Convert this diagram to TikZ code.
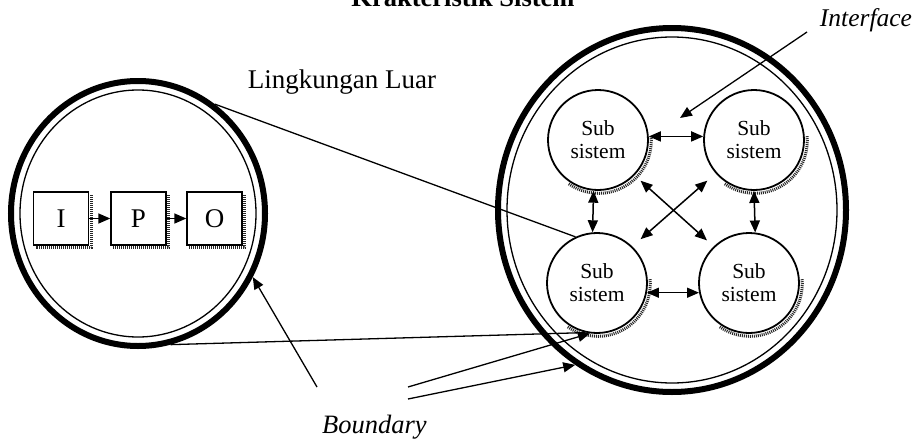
\documentclass[tikz,border=0pt]{standalone}
\usepackage{fontspec}
\setmainfont{Liberation Serif}
\usetikzlibrary{arrows.meta, shapes.geometric, positioning}
\tikzset{
  ring/.style={ellipse, draw, line width=6pt, inner sep=0pt},
  subsys/.style={circle, draw, fill=white, line width=1.8pt, minimum size=100pt,
                 inner sep=0pt, align=center, font=\fontsize{21.5}{23}\selectfont},
  ipobox/.style={rectangle, draw, fill=white, line width=1.4pt, minimum width=55pt,
                 minimum height=53pt, font=\fontsize{27}{30}\selectfont},
  shadowline/.style={draw=black!85, line width=3pt, dash pattern=on 1pt off 1pt},
  arrow/.style={-{Triangle[length=12pt,width=10pt]}, line width=1.5pt},
  darrow/.style={{Triangle[length=12pt,width=10pt]}-{Triangle[length=12pt,width=10pt]},
                 line width=1.5pt},
  link/.style={line width=1.3pt},
  label/.style={font=\fontsize{26.5}{30}\selectfont\itshape, anchor=base},
}
\begin{document}
\begin{tikzpicture}[x=1pt, y=-1pt]
  \useasboundingbox (0,0) rectangle (924,442);

  % judul dan label
  \node[font=\fontsize{26.5}{30}\selectfont\bfseries, anchor=base] (judul) at (463,6)
    {Krakteristik Sistem};
  \node[font=\fontsize{27}{30}\selectfont, anchor=base] (luarlbl) at (342,88)
    {Lingkungan Luar};
  \node[label, font=\fontsize{25.5}{30}\selectfont\itshape] (intf) at (866,26) {Interface};
  \node[label] (bnd) at (374.5,433) {Boundary};

  % lingkungan kiri
  \node[ring, minimum width=254pt, minimum height=265pt] (luar) at (138,213.5) {};
  \draw[link] (luar.center) ellipse (118 and 123.5);
  \node[ipobox] (i) at (61,218.5) {I};
  \node[ipobox] (p) at (138.5,218.5) {P};
  \node[ipobox] (o) at (214.5,218.5) {O};
  \foreach \b in {i,p,o}
    \draw[shadowline] ([xshift=2.2pt,yshift=-4pt]\b.north east)
      -- ([xshift=2.2pt,yshift=-2.2pt]\b.south east)
      -- ([xshift=3pt,yshift=-2.2pt]\b.south west);
  \draw[arrow] (i) -- (p);
  \draw[arrow] (p) -- (o);

  % sistem kanan
  \node[ring, minimum width=348pt, minimum height=364pt] (sys) at (672,210) {};
  \draw[link] (sys.center) ellipse (165 and 173);

  \node[subsys] (tl) at (598,140) {Sub\\sistem};
  \node[subsys] (tr) at (754,140) {Sub\\sistem};
  \node[subsys] (bl) at (597,283) {Sub\\sistem};
  \node[subsys] (br) at (749,283) {Sub\\sistem};
  \foreach \s in {tl,tr,bl,br}
    \draw[shadowline] ([xshift=0.8pt,yshift=-0.8pt]\s.center) ++(-5:52.5)
      arc (-5:125:52.5);

  \draw[darrow] (tl.4) -- (tr.176);
  \draw[darrow] (bl.-11) -- (br.191);
  \draw[darrow] (tl.-95) -- (bl.95);
  \draw[darrow] (tr.-90) -- (br.83);
  \draw[darrow, shorten <=8pt, shorten >=9pt] (tl.-44) -- (br.134);
  \draw[darrow, shorten <=11pt, shorten >=11pt] (tr.-139) -- (bl.46);

  % garis lingkungan ke subsistem
  \draw[link] (luar.55) -- (bl.115);
  \draw[link] (luar.-76) -- (bl.-103);

  % panah interface dan boundary
  \coordinate (if1) at (807,32);
  \coordinate (if2) at (680,118);
  \draw[arrow, line width=1.3pt] (if1) -- (if2);
  \coordinate (b1) at (317,387);
  \coordinate (b2) at (408,387);
  \coordinate (b3) at (408,399);
  \draw[arrow, line width=1.3pt] (b1) -- (luar.-29);
  \draw[arrow, line width=1.3pt] (b2) -- (bl.-98);
  \draw[arrow, line width=1.3pt] (b3) -- (sys.-122);
\end{tikzpicture}
\end{document}
